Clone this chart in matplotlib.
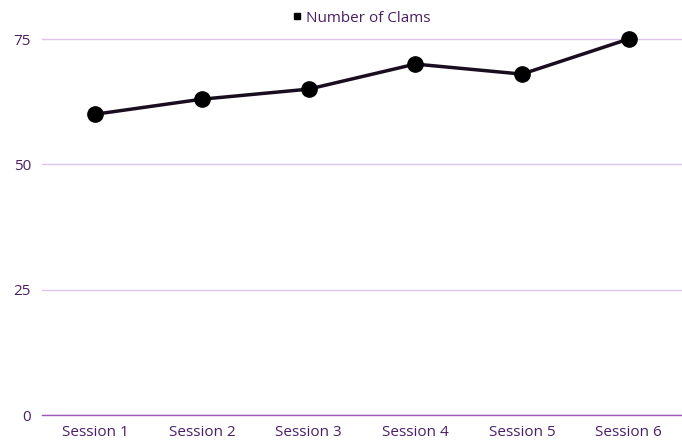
import matplotlib.pyplot as plt
from matplotlib.lines import Line2D

sessions = ['Session 1', 'Session 2', 'Session 3', 'Session 4', 'Session 5', 'Session 6']
clams = [60, 63, 65, 70, 68, 75]
yticks = [0, 25, 50, 75]

text_color = '#4b1f66'
plt.rcParams['font.family'] = ['Open Sans', 'DejaVu Sans']

fig = plt.figure(figsize=(6.82, 4.40), dpi=100)
ax = fig.add_axes([42 / 682, 25 / 440, 640 / 682, 378 / 440])

x = list(range(len(sessions)))
ax.plot(x, clams, color='#1a0d1f', linewidth=2.5, marker='o', markersize=11,
        markerfacecolor='black', markeredgecolor='black', zorder=3, clip_on=False)

ax.set_xlim(-0.5, len(sessions) - 0.5)
ax.set_ylim(0, 75.4)
ax.set_yticks(yticks)
ax.set_xticks(x)
ax.set_xticklabels(sessions)
ax.grid(axis='y', color='#dcc4ec', linewidth=1)
ax.set_axisbelow(True)

for s in ['top', 'right', 'left']:
    ax.spines[s].set_visible(False)
ax.spines['bottom'].set_color('#9b59b6')
ax.spines['bottom'].set_linewidth(1)
ax.tick_params(axis='both', length=0, labelsize=11, colors=text_color)
ax.tick_params(axis='x', pad=7)
ax.tick_params(axis='y', pad=8)
ax.spines['bottom'].set_zorder(4)

handle = Line2D([], [], color='black', marker='s', linestyle='none', markersize=5)
fig.legend([handle], ['Number of Clams'], loc='center', bbox_to_anchor=(360 / 682, 1 - 18 / 440),
           frameon=False, fontsize=11, labelcolor=text_color, handletextpad=0.1,
           handlelength=1.0)

fig.savefig('out.png', dpi=100)
